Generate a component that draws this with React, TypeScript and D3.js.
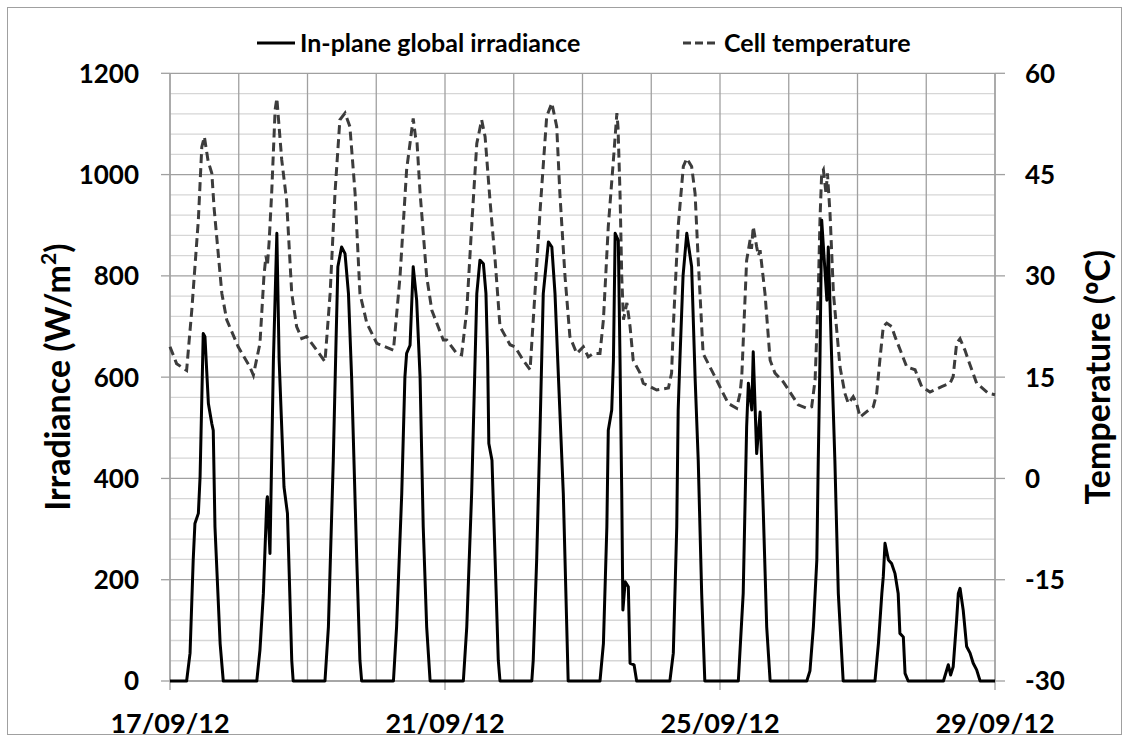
import React from "react";
import * as d3 from "d3";

// ---- Data (hours since 17/09/2012 00:00) ----
const irrHours = [
  0, 5.8, 7.0, 8.1, 8.7, 9.9, 10.5, 11.6, 12.2, 13.4, 14.6, 15.1, 15.7, 17.5, 18.6,
  30.3, 31.4, 32.6, 33.8, 34.0, 34.9, 36.1, 37.3, 38.1, 39.8, 41.0, 42.5, 43.0,
  54.1, 55.3, 57.0, 58.0, 58.6, 59.9, 61.1, 62.3, 63.4, 65.2, 66.3, 66.9,
  78.0, 79.1, 80.9, 82.0, 82.6, 83.8, 84.9, 86.1, 87.3, 88.4, 89.6, 90.8,
  102.4, 103.6, 105.3, 106.5, 107.1, 108.2, 109.4, 110.3, 110.9, 111.3, 112.4, 113.5, 114.6, 115.2,
  126.3, 126.8, 128.0, 129.2, 130.3, 132.1, 133.3, 134.4, 135.6, 137.3, 137.9, 139.0,
  150.1, 151.3, 152.5, 153.0, 154.2, 154.8, 155.4, 156.5, 157.1, 157.7, 158.1, 158.9, 160.0, 160.6, 162.0, 162.9,
  174.5, 175.7, 176.9, 177.4, 178.0, 179.1, 180.4, 182.1, 183.3, 184.4, 185.6, 186.7,
  198.4, 200.1, 201.3, 201.9, 203.1, 203.6, 204.8, 206.0, 207.1, 208.3, 209.5,
  222.3, 223.4, 224.6, 225.8, 226.3, 226.9, 227.5, 229.3, 229.8, 231.0, 232.1, 233.3, 235.0,
  246.1, 247.3, 248.5, 249.0, 249.6, 250.8, 251.9, 253.1, 254.2, 254.8, 256.0, 256.6, 257.7,
  270.0, 271.7, 272.5, 273.4, 274.6, 275.2, 275.8, 276.9, 278.1, 279.3, 280.4, 281.6, 282.8, 288,
];
const irrValues = [
  0, 0, 55, 239, 311, 331, 403, 686, 680, 548, 508, 495, 304, 74, 0,
  0, 61, 173, 357, 364, 252, 634, 884, 634, 383, 331, 41, 0,
  0, 107, 436, 680, 818, 857, 844, 765, 600, 239, 41, 0,
  0, 107, 370, 600, 647, 663, 818, 752, 600, 304, 107, 0,
  0, 107, 370, 634, 765, 831, 824, 765, 634, 469, 436, 239, 41, 0,
  0, 41, 239, 502, 765, 867, 857, 765, 600, 370, 239, 0,
  0, 74, 304, 495, 535, 634, 884, 870, 634, 370, 140, 196, 186, 35, 32, 0,
  0, 55, 304, 535, 634, 800, 884, 818, 600, 436, 173, 0,
  0, 173, 502, 588, 535, 650, 449, 531, 337, 107, 0,
  0, 20, 107, 239, 436, 634, 910, 752, 857, 634, 436, 173, 0,
  0, 74, 173, 206, 272, 239, 232, 212, 173, 94, 87, 15, 0,
  0, 32, 12, 28, 120, 173, 183, 140, 68, 55, 35, 22, 0, 0,
];

const tempHours = [
  0, 2.3, 5.8, 7.6, 9.9, 11.1, 12.0, 13.3, 14.6, 15.4, 18.1, 19.8, 23.8, 27.9, 29.1,
  31.4, 32.8, 33.5, 34.0, 34.6, 35.5, 36.7, 37.3, 39.0, 40.7, 42.5, 44.2, 46.0, 47.7, 51.2, 54.1,
  55.9, 57.6, 59.3, 61.1, 62.8, 64.6, 66.3, 68.7, 72.2, 78.0,
  80.3, 82.6, 84.9, 85.7, 86.2, 87.3, 89.6, 91.4, 95.4, 96.6, 100.1, 101.8,
  103.6, 105.3, 107.1, 108.8, 110.0, 111.7, 113.5, 115.2, 118.7, 120.4, 123.3, 125.7,
  127.4, 129.2, 131.5, 133.3, 135.0, 136.1, 137.9, 139.6, 142.0, 144.3, 146.0, 147.8, 150.1,
  151.3, 153.0, 154.8, 156.0, 156.4, 157.1, 157.7, 158.3, 159.5, 160.6, 161.7, 164.1, 165.2, 169.9, 174.0,
  175.1, 175.7, 177.4, 179.2, 180.4, 182.1, 183.3, 184.4, 186.1, 188.5, 190.8, 193.1, 194.9, 197.8,
  199.0, 199.6, 201.3, 202.5, 203.0, 203.6, 204.8, 205.4, 206.0, 207.7, 209.5, 211.2, 214.1, 216.4, 219.3, 222.3, 224.0,
  225.2, 226.3, 226.9, 227.5, 228.1, 229.0, 229.5, 230.4, 231.6, 233.9, 235.6, 236.8, 238.5, 239.7, 240.9, 243.2, 245.5,
  246.7, 247.8, 249.0, 250.2, 251.9, 253.1, 255.4, 257.2, 260.1, 262.4, 265.3, 269.4, 272.3,
  273.4, 274.6, 275.8, 277.5, 278.7, 281.6, 285.7, 288,
];
const tempValues = [
  19.5, 17.0, 16.0, 24.9, 38.3, 49.1, 50.6, 47.0, 45.2, 40.0, 27.4, 23.5, 19.5, 16.5, 15.3,
  20.0, 30.0, 33.0, 31.5, 35.0, 42.3, 54.6, 56.3, 47.2, 41.2, 27.4, 22.5, 20.7, 21.0, 19.0, 17.3,
  27.4, 42.3, 53.1, 54.1, 52.1, 42.3, 27.4, 23.0, 20.0, 19.0,
  29.9, 45.7, 53.3, 50.6, 50.0, 42.3, 29.9, 24.9, 20.5, 20.5, 18.5, 18.3,
  24.9, 37.3, 49.6, 53.1, 50.6, 41.2, 32.3, 22.5, 19.8, 19.5, 17.5, 16.1,
  27.4, 39.7, 53.6, 55.6, 52.1, 42.2, 29.9, 21.0, 18.5, 19.5, 18.0, 18.5, 18.5,
  23.5, 37.3, 47.2, 54.1, 52.0, 42.2, 29.9, 23.5, 26.0, 22.5, 17.5, 15.6, 14.1, 13.1, 13.4,
  15.6, 22.5, 37.3, 46.2, 47.4, 46.2, 42.2, 32.3, 18.5, 16.5, 14.6, 12.6, 11.1, 10.4,
  12.6, 15.1, 32.3, 35.3, 34.0, 37.3, 34.3, 33.0, 33.8, 27.4, 17.5, 15.6, 14.3, 12.8, 10.9, 10.4, 10.6,
  14.6, 27.4, 38.3, 45.2, 45.7, 42.2, 45.2, 39.3, 27.4, 16.5, 12.6, 11.1, 12.1, 11.1, 9.1, 9.9, 10.6,
  12.6, 17.5, 22.5, 23.0, 22.5, 21.0, 18.5, 16.5, 16.1, 13.6, 12.8, 13.6, 14.1,
  15.1, 20.0, 20.7, 19.0, 17.5, 14.1, 12.6, 12.4,
];

const leftTicks = [0, 200, 400, 600, 800, 1000, 1200];
const rightTicks = [-30, -15, 0, 15, 30, 45, 60];
const dateLabels = ["17/09/12", "21/09/12", "25/09/12", "29/09/12"];
const seriesNames = ["In-plane global irradiance", "Cell temperature"];

const START = Date.UTC(2012, 8, 17);
const END = Date.UTC(2012, 8, 29);
const toDate = (h: number) => new Date(START + h * 3600e3);

export default function App() {
  const W = 1129, H = 742;
  const pl = 170, pr = 995, pt = 73.3, pb = 681;
  const x = d3.scaleUtc().domain([new Date(START), new Date(END)]).range([pl, pr]);
  const yL = d3.scaleLinear().domain([0, 1200]).range([pb, pt]);
  const yR = d3.scaleLinear().domain([-30, 60]).range([pb, pt]);

  const irr = irrHours.map((h, i) => ({ t: toDate(h), v: irrValues[i] }));
  const tmp = tempHours.map((h, i) => ({ t: toDate(h), v: tempValues[i] }));
  const lineL = d3.line<any>().x((d) => x(d.t)).y((d) => yL(d.v));
  const lineR = d3.line<any>().x((d) => x(d.t)).y((d) => yR(d.v));

  const minor = d3.range(0, 1201, 40).filter((v) => v % 200 !== 0);
  const days = d3.utcDay.range(new Date(START), new Date(END + 1));
  const labelDays = d3.utcDay.every(4)!.range(new Date(START), new Date(END + 1));

  const font = "Lato, 'Open Sans', sans-serif";
  const gridMajor = "#a0a0a0";
  const gridMinor = "#d6d6d6";

  return (
    <div style={{ position: "absolute", left: 0, top: 0 }}>
      <svg width={W} height={H} style={{ display: "block", fontFamily: font, fontWeight: 700 }}>
        <rect x={0} y={0} width={W} height={H} fill="#fff" />
        <rect x={7.5} y={7.5} width={1114} height={727} fill="none" stroke="#a0a0a0" strokeWidth={1} />
        {minor.map((v) => (
          <line key={"m" + v} x1={pl} x2={pr} y1={yL(v)} y2={yL(v)} stroke={gridMinor} strokeWidth={1.3} />
        ))}
        {days.map((d, i) => (
          <line key={"d" + i} x1={x(d)} x2={x(d)} y1={pt} y2={pb} stroke={gridMajor} strokeWidth={1.3} />
        ))}
        {leftTicks.map((v) => (
          <line key={"M" + v} x1={pl} x2={pr} y1={yL(v)} y2={yL(v)} stroke={gridMajor} strokeWidth={1.3} />
        ))}
        <line x1={pl} x2={pl} y1={pt} y2={pb} stroke={gridMajor} strokeWidth={1.3} />
        <line x1={pr} x2={pr} y1={pt} y2={pb} stroke={gridMajor} strokeWidth={1.3} />
        <line x1={pl} x2={pr} y1={pb} y2={pb} stroke={gridMajor} strokeWidth={1.3} />
        {leftTicks.map((v) => (
          <line key={"lt" + v} x1={pl - 9} x2={pl} y1={yL(v)} y2={yL(v)} stroke={gridMajor} strokeWidth={1.3} />
        ))}
        {rightTicks.map((v) => (
          <line key={"rt" + v} x1={pr} x2={pr + 10} y1={yR(v)} y2={yR(v)} stroke={gridMajor} strokeWidth={1.3} />
        ))}
        {labelDays.map((d, i) => (
          <line key={"bt" + i} x1={x(d)} x2={x(d)} y1={pb} y2={pb + 9} stroke={gridMajor} strokeWidth={1.3} />
        ))}
        <path d={lineR(tmp) || ""} fill="none" stroke="#3c3c3c" strokeWidth={3} strokeDasharray="9,5" />
        <path d={lineL(irr) || ""} fill="none" stroke="#000" strokeWidth={3} strokeLinejoin="round" />
        {leftTicks.map((v) => (
          <text key={"ll" + v} x={139} y={yL(v)} dy="0.36em" textAnchor="end" fontSize={26}>{v}</text>
        ))}
        {rightTicks.map((v) => (
          <text key={"rl" + v} x={1025} y={yR(v)} dy="0.36em" textAnchor="start" fontSize={26}>{v}</text>
        ))}
        {labelDays.map((d, i) => (
          <text key={"xl" + i} x={x(d)} y={733} textAnchor="middle" fontSize={27}>{dateLabels[i]}</text>
        ))}
        <text transform={`translate(70, ${(pt + pb) / 2}) rotate(-90)`} textAnchor="middle" fontSize={34}>
          Irradiance (W/m<tspan fontSize={21} dy={-14}>2</tspan><tspan dy={14}>)</tspan>
        </text>
        <text transform={`translate(1110, ${(pt + pb) / 2}) rotate(-90)`} textAnchor="middle" fontSize={34}>
          Temperature (<tspan fontFamily="'Open Sans', 'DejaVu Sans', sans-serif">º</tspan>C)
        </text>
        <line x1={257} x2={295} y1={43} y2={43} stroke="#000" strokeWidth={3} />
        <text x={300} y={43} dy="0.36em" fontSize={25}>{seriesNames[0]}</text>
        <line x1={683} x2={719} y1={43} y2={43} stroke="#3c3c3c" strokeWidth={3} strokeDasharray="8,4" />
        <text x={724} y={43} dy="0.36em" fontSize={25}>{seriesNames[1]}</text>
      </svg>
    </div>
  );
}
